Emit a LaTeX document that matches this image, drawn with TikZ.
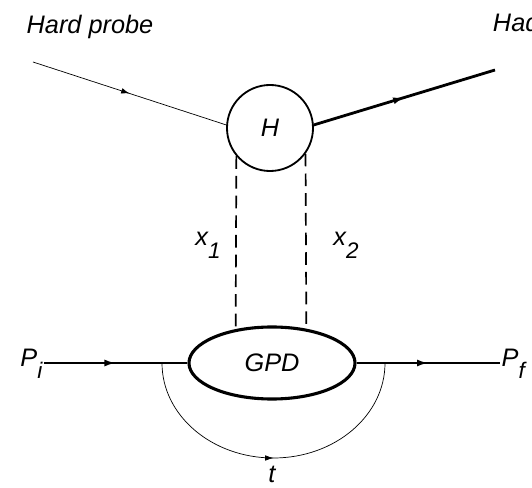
\documentclass[tikz,border=0pt]{standalone}
\usepackage{fontspec}
\setmainfont{Liberation Sans}
\usetikzlibrary{arrows.meta,positioning,shapes.geometric,decorations.markings}

\newcommand\lowidx[1]{\raisebox{-0.5em}{\fontsize{16}{16}\selectfont #1}}

\begin{document}
\begin{tikzpicture}[
  x=0.025cm, y=0.025cm,
  font=\fontsize{18}{20}\selectfont\itshape,
  >=Latex,
  midarr/.style={postaction={decorate}, decoration={markings, mark=at position 0.5 with {\arrow{#1}}}},
  thinline/.style={line width=0.5pt, midarr={Latex[length=6pt,width=4pt]}},
  thickline/.style={line width=2pt, midarr={Latex[length=8pt,width=5pt]}},
  blob/.style={draw, line width=1.3pt, circle, minimum size=2.15cm, inner sep=0pt},
  gpdbox/.style={draw, line width=2.2pt, ellipse, minimum width=4.15cm, minimum height=1.8cm, inner sep=0pt},
  pdash/.style={line width=1.2pt, dash pattern=on 9pt off 5pt}
]
\useasboundingbox (0,0) rectangle (532,487);
\node (probe) at (90,460) {Hard probe};
\node[anchor=west] (hadron) at (488,465) {Hadron};
\node[blob] (H) at (270,359) {H};
\node[gpdbox] (GPD) at (272,124) {GPD};
\node[anchor=base east, inner sep=1pt] (Pi) at (44,121) {P\lowidx{i}};
\node[anchor=base west, inner sep=1pt] (Pf) at (500,121) {P\lowidx{f}};
\node (x1) at (208,242) {x\lowidx{1}};
\node (x2) at (346,242) {x\lowidx{2}};
\node (t) at (272,13) {t};
\coordinate (pin) at (33,425);
\coordinate (hout) at (495,417);
\coordinate (tl) at (162,124);
\coordinate (tr) at (385,124);
\draw[thinline] (pin) -- (H.176);
\draw[thickline] (H.4) -- (hout);
\draw[pdash] (H.220) -- (GPD.137);
\draw[pdash] (H.324) -- (GPD.45);
\draw[thickline] (Pi.east |- GPD.west) -- (GPD.west);
\draw[thickline] (GPD.east) -- (Pf.west |- GPD.east);
\draw[thinline] (tl) arc[start angle=180, end angle=360, x radius=111.5, y radius=95];
\end{tikzpicture}
\end{document}
